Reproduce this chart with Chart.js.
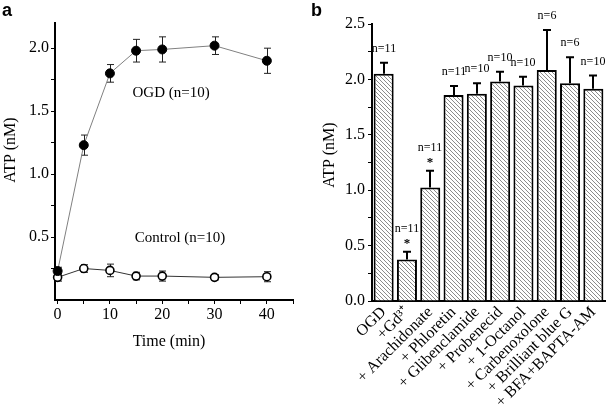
<!DOCTYPE html>
<html><head><meta charset="utf-8">
<script src="https://cdn.jsdelivr.net/npm/chart.js@4/dist/chart.umd.min.js"></script>
<style>
html,body{margin:0;padding:0;background:#fff;width:610px;height:412px;overflow:hidden}
#wa{position:absolute;left:0;top:0;width:300px;height:412px}
#wb{position:absolute;left:300px;top:0;width:310px;height:412px}
.pl{position:absolute;font-family:"Liberation Sans",Arial,sans-serif;font-weight:bold;font-size:18px;line-height:18px;color:#000}
</style></head><body>
<div id="wa"><canvas id="ca"></canvas></div>
<div id="wb"><canvas id="cb"></canvas></div>
<div class="pl" style="left:2px;top:1px">a</div>
<div class="pl" style="left:311px;top:1px">b</div>
<script>
// ---------- Panel a data ----------
const timePoints = [0, 5, 10, 15, 20, 30, 40];
const ogdMean = [0.23, 1.23, 1.80, 1.98, 1.99, 2.02, 1.90];
const ogdErr = [0.03, 0.08, 0.07, 0.09, 0.10, 0.07, 0.10];
const ctrlMean = [0.18, 0.25, 0.235, 0.19, 0.19, 0.18, 0.185];
const ctrlErr = [0.03, 0.03, 0.05, 0.03, 0.04, 0.02, 0.04];
const timeTicks = [0, 5, 10, 15, 20, 25, 30, 35, 40, 45];
const timeTickLabels = [0, 10, 20, 30, 40];
const atpTicksA = [0.25, 0.5, 0.75, 1.0, 1.25, 1.5, 1.75, 2.0];
const atpTickLabelsA = [0.5, 1.0, 1.5, 2.0];

// ---------- Panel b data ----------
const treatments = ['OGD', '+Gd\u00B3\u207A', '+ Arachidonate', '+ Phloretin', '+ Glibenclamide',
  '+ Probenecid', '+ 1-Octanol', '+ Carbenoxolone', '+ Brilliant blue G', '+ BFA+BAPTA-AM'];
const atpMean = [2.05, 0.375, 1.025, 1.86, 1.87, 1.98, 1.945, 2.085, 1.965, 1.915];
const atpSem = [0.10, 0.07, 0.15, 0.08, 0.095, 0.09, 0.08, 0.36, 0.235, 0.12];
const nCounts = ['n=11', 'n=11', 'n=11', 'n=11', 'n=10', 'n=10', 'n=10', 'n=6', 'n=6', 'n=10'];
const signif = ['', '*', '*', '', '', '', '', '', '', ''];
const atpTicksB = [0, 0.25, 0.5, 0.75, 1.0, 1.25, 1.5, 1.75, 2.0, 2.25, 2.5];
const atpTickLabelsB = [0, 0.5, 1.0, 1.5, 2.0, 2.5];

const SERIF = '"Liberation Serif","Times New Roman",serif';
const has = (arr, v) => arr.some(a => Math.abs(a - v) < 1e-6);

// ---------- Panel a ----------
const errPluginA = {
  id: 'errA',
  beforeDatasetsDraw(chart) {
    const ctx = chart.ctx, xs = chart.scales.x, ys = chart.scales.y;
    ctx.save();
    ctx.strokeStyle = '#222'; ctx.lineWidth = 1;
    chart.data.datasets.forEach(ds => {
      ds.data.forEach((p, i) => {
        const e = ds.errors[i];
        const x = Math.round(xs.getPixelForValue(p.x)) + 0.5;
        const yt = ys.getPixelForValue(p.y + e), yb = ys.getPixelForValue(p.y - e);
        ctx.beginPath();
        ctx.moveTo(x, yt); ctx.lineTo(x, yb);
        ctx.moveTo(x - 3.5, yt); ctx.lineTo(x + 3.5, yt);
        ctx.moveTo(x - 3.5, yb); ctx.lineTo(x + 3.5, yb);
        ctx.stroke();
      });
    });
    ctx.restore();
  }
};
const textPluginA = {
  id: 'txtA',
  afterDraw(chart) {
    const ctx = chart.ctx, xs = chart.scales.x, ys = chart.scales.y, ca = chart.chartArea;
    ctx.save();
    ctx.fillStyle = '#000';
    ctx.font = '15px ' + SERIF;
    ctx.textAlign = 'center'; ctx.textBaseline = 'middle';
    ctx.fillText('OGD (n=10)', xs.getPixelForValue(21.7), ys.getPixelForValue(1.64));
    ctx.fillText('Control (n=10)', xs.getPixelForValue(23.4), ys.getPixelForValue(0.49));
    ctx.font = '16px ' + SERIF;
    ctx.fillText('Time (min)', (ca.left + ca.right) / 2 - 5, 342);
    ctx.translate(11, 150);
    ctx.rotate(-Math.PI / 2);
    ctx.fillText('ATP (nM)', 0, 0);
    ctx.restore();
  }
};

new Chart(document.getElementById('ca'), {
  type: 'line',
  data: {
    datasets: [
      {
        label: 'OGD (n=10)',
        data: timePoints.map((t, i) => ({ x: t, y: ogdMean[i] })),
        errors: ogdErr,
        borderColor: '#808080', borderWidth: 1,
        pointRadius: 4.5, pointBackgroundColor: '#000', pointBorderColor: '#000', pointBorderWidth: 1,
        clip: false, tension: 0
      },
      {
        label: 'Control (n=10)',
        data: timePoints.map((t, i) => ({ x: t, y: ctrlMean[i] })),
        errors: ctrlErr,
        borderColor: '#333', borderWidth: 1,
        pointRadius: 4, pointBackgroundColor: '#fff', pointBorderColor: '#000', pointBorderWidth: 1.6,
        clip: false, tension: 0
      }
    ]
  },
  options: {
    responsive: true, maintainAspectRatio: false, animation: false,
    layout: { padding: { top: 23, right: 7, left: 0, bottom: 60 } },
    plugins: { legend: { display: false }, tooltip: { enabled: false } },
    scales: {
      x: {
        type: 'linear', min: -0.5, max: 45,
        afterBuildTicks: s => { s.ticks = timeTicks.map(v => ({ value: v })); },
        afterFit: s => { s.height = 52; },
        grid: { drawOnChartArea: false, drawTicks: true, tickLength: 4, color: '#000', tickWidth: 1 },
        border: { display: true, color: '#000', width: 2 },
        ticks: {
          callback: v => has(timeTickLabels, v) ? String(v) : '',
          color: '#000', font: { family: SERIF, size: 16 }, padding: 1, maxRotation: 0, autoSkip: false
        }
      },
      y: {
        min: 0, max: 2.2,
        afterBuildTicks: s => { s.ticks = atpTicksA.map(v => ({ value: v })); },
        afterFit: s => { s.width = 55; },
        grid: { drawOnChartArea: false, drawTicks: true, tickLength: 4, color: '#000', tickWidth: 1 },
        border: { display: true, color: '#000', width: 2 },
        ticks: {
          callback: v => has(atpTickLabelsA, v) ? v.toFixed(1) : '',
          color: '#000', font: { family: SERIF, size: 16 }, padding: 2, autoSkip: false
        }
      }
    }
  },
  plugins: [errPluginA, textPluginA]
});

// ---------- Panel b ----------
function hatch() {
  const c = document.createElement('canvas');
  c.width = 4; c.height = 4;
  const g = c.getContext('2d');
  g.fillStyle = '#fff'; g.fillRect(0, 0, 4, 4);
  g.strokeStyle = '#8c8c8c'; g.lineWidth = 1;
  g.beginPath();
  g.moveTo(0, 0); g.lineTo(4, 4);
  g.moveTo(-1, 3); g.lineTo(1, 5);
  g.moveTo(3, -1); g.lineTo(5, 1);
  g.stroke();
  return g.createPattern(c, 'repeat');
}

const barPluginB = {
  id: 'errB',
  afterDatasetsDraw(chart) {
    const ctx = chart.ctx, ys = chart.scales.y;
    const meta = chart.getDatasetMeta(0);
    ctx.save();
    ctx.strokeStyle = '#000'; ctx.fillStyle = '#000'; ctx.lineWidth = 2;
    meta.data.forEach((bar, i) => {
      const x = Math.round(bar.x);
      const yTop = ys.getPixelForValue(atpMean[i]);
      const yErr = ys.getPixelForValue(atpMean[i] + atpSem[i]);
      ctx.beginPath();
      ctx.moveTo(x, yTop); ctx.lineTo(x, yErr);
      ctx.moveTo(x - 4, yErr); ctx.lineTo(x + 4, yErr);
      ctx.stroke();
      ctx.textAlign = 'center'; ctx.textBaseline = 'middle';
      if (signif[i]) {
        ctx.font = 'bold 13px ' + SERIF;
        ctx.fillText(signif[i], x, yErr - 8);
        ctx.font = '12px ' + SERIF;
        ctx.fillText(nCounts[i], x, yErr - 23);
      } else {
        ctx.font = '12px ' + SERIF;
        ctx.fillText(nCounts[i], x, yErr - 14);
      }
    });
    ctx.font = '16px ' + SERIF;
    ctx.translate(30, 155);
    ctx.rotate(-Math.PI / 2);
    ctx.fillText('ATP (nM)', 0, 0);
    ctx.restore();
  }
};

new Chart(document.getElementById('cb'), {
  type: 'bar',
  data: {
    labels: treatments,
    datasets: [{
      data: atpMean,
      backgroundColor: hatch(), borderColor: '#000', borderWidth: 2, borderSkipped: 'start',
      barPercentage: 0.86, categoryPercentage: 1
    }]
  },
  options: {
    responsive: true, maintainAspectRatio: false, animation: false,
    layout: { padding: { top: 24, right: 5, left: 0, bottom: 0 } },
    plugins: { legend: { display: false }, tooltip: { enabled: false } },
    scales: {
      x: {
        afterFit: s => { s.height = 111; },
        grid: { display: true, drawOnChartArea: false, drawTicks: false },
        border: { display: true, color: '#000', width: 2 },
        ticks: {
          color: '#000', font: { family: SERIF, size: 16 }, padding: 2,
          maxRotation: 45, minRotation: 45, autoSkip: false
        }
      },
      y: {
        min: 0, max: 2.5,
        afterBuildTicks: s => { s.ticks = atpTicksB.map(v => ({ value: v })); },
        afterFit: s => { s.width = 72; },
        grid: { drawOnChartArea: false, drawTicks: true, tickLength: 4, color: '#000', tickWidth: 1 },
        border: { display: true, color: '#000', width: 2 },
        ticks: {
          callback: v => has(atpTickLabelsB, v) ? v.toFixed(1) : '',
          color: '#000', font: { family: SERIF, size: 16 }, padding: 3, autoSkip: false
        }
      }
    }
  },
  plugins: [barPluginB]
});
</script>
</body></html>
